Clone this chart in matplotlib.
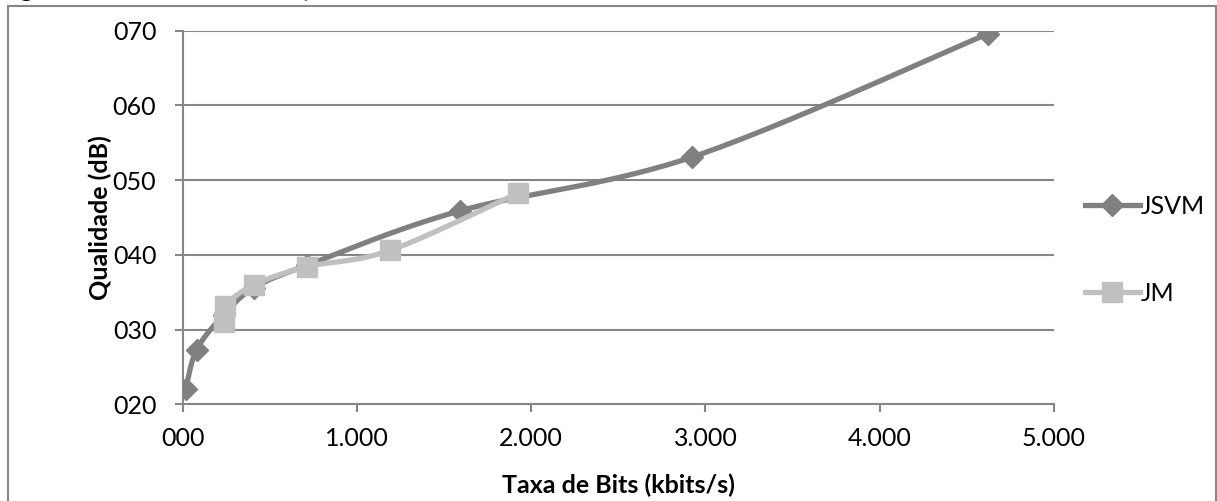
import numpy as np
import matplotlib
matplotlib.use("Agg")
import matplotlib.pyplot as plt
from matplotlib.lines import Line2D
from matplotlib.ticker import FuncFormatter

# ---- data ----
jsvm_rate = [17, 80, 236, 409, 712, 1592, 2925, 4622]
jsvm_q = [22.0, 27.3, 32.0, 35.6, 38.6, 45.9, 53.1, 69.6]
jm_rate = [235, 245, 409, 712, 1190, 1927]
jm_q = [31.0, 33.2, 36.0, 38.4, 40.6, 48.3]
x_ticks = [0, 1000, 2000, 3000, 4000, 5000]
y_ticks = [20, 30, 40, 50, 60, 70]
series_names = ["JSVM", "JM"]

FONT = ["Lato", "DejaVu Sans"]
plt.rcParams["font.family"] = FONT
GRID = "#868686"
C_JSVM = "#808080"
C_JM = "#C0C0C0"

W, H = 1217, 501
fig = plt.figure(figsize=(W / 100, H / 100), dpi=100)
ax = fig.add_axes([182.7 / W, 1 - 404.3 / H, (1054 - 182.7) / W, (404.3 - 30.7) / H])
ax.set_xlim(0, 5000)
ax.set_ylim(20, 70)

# smoothing similar to spreadsheet smoothed lines (in screen-proportional space)
sx = (1054 - 182.7) / 5000.0
sy = (404.3 - 30.7) / 50.0


def smooth(xs, ys, n=30):
    P = np.column_stack([np.array(xs, float) * sx, np.array(ys, float) * sy])
    out = [P[0]]
    for i in range(len(P) - 1):
        p0 = P[i - 1] if i > 0 else P[i]
        p1 = P[i]
        p2 = P[i + 1]
        p3 = P[i + 2] if i + 2 < len(P) else P[i + 1]
        c1 = p1 + (p2 - p0) / 6.0
        c2 = p2 - (p3 - p1) / 6.0
        t = np.linspace(0, 1, n)[1:, None]
        seg = ((1 - t) ** 3) * p1 + 3 * ((1 - t) ** 2) * t * c1 + 3 * (1 - t) * t ** 2 * c2 + t ** 3 * p2
        out.extend(seg)
    out = np.array(out)
    return out[:, 0] / sx, out[:, 1] / sy


for yv in y_ticks[1:]:
    ax.axhline(yv, color=GRID, lw=1.5, zorder=1)

xs, ys = smooth(jsvm_rate, jsvm_q)
ax.plot(xs, ys, color=C_JSVM, lw=3.8, zorder=3, solid_capstyle="round")
ax.plot(jsvm_rate, jsvm_q, ls="none", marker="D", ms=11.5, color=C_JSVM, zorder=4)
xs, ys = smooth(jm_rate, jm_q)
ax.plot(xs, ys, color=C_JM, lw=3.8, zorder=5, solid_capstyle="round")
ax.plot(jm_rate, jm_q, ls="none", marker="s", ms=14, color=C_JM, zorder=6)

for s in ["top", "right"]:
    ax.spines[s].set_visible(False)
for s in ["left", "bottom"]:
    ax.spines[s].set_color(GRID)
    ax.spines[s].set_linewidth(1.5)

ax.set_xticks(x_ticks)
ax.set_yticks(y_ticks)
ax.xaxis.set_major_formatter(FuncFormatter(lambda v, p: "000" if v == 0 else f"{int(v):,}".replace(",", ".")))
ax.yaxis.set_major_formatter(FuncFormatter(lambda v, p: f"{int(v):03d}"))
ax.tick_params(axis="both", color=GRID, width=1.5, length=6, labelsize=18)
ax.tick_params(axis="y", pad=13)
ax.tick_params(axis="x", pad=10)

fig.text(618 / W, 1 - 485 / H, "Taxa de Bits (kbits/s)", ha="center", va="center",
         fontsize=18, fontweight="bold")
fig.text(100 / W, 1 - 218 / H, "Qualidade (dB)", ha="center", va="center",
         rotation=90, fontsize=18, fontweight="bold")

# legend
handles = [Line2D([], [], color=C_JSVM, lw=3.8, marker="D", ms=11.5),
           Line2D([], [], color=C_JM, lw=3.8, marker="s", ms=14)]
fig.legend(handles, series_names, loc="center left",
           bbox_to_anchor=(1072 / W, 1 - 250 / H), frameon=False, fontsize=18,
           handlelength=2.2, handletextpad=0.05, labelspacing=2.55, borderpad=0)

# outer chart frame
fig.patches.append(plt.Rectangle((8 / W, -0.05), (1216 - 8) / W, (H - 6) / H + 0.05,
                                 transform=fig.transFigure, fill=False,
                                 edgecolor=GRID, lw=1.5))
fig.text(0.0, 1 + 10 / H, "Figura 12 – Taxa de bits x Qualidade", ha="left", va="center",
         fontsize=18)

fig.savefig("out.png", dpi=100)
